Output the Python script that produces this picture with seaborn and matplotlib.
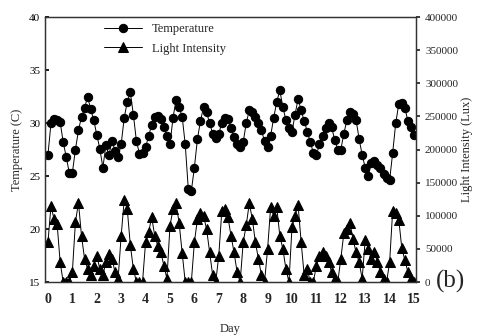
import numpy as np
import pandas as pd
import matplotlib
matplotlib.use("Agg")
import matplotlib.pyplot as plt
import seaborn as sns

# ---- data (3-hour samples) ----
temp_by_day = [
    [27.0, 30.0, 30.4, 30.3, 30.1, 28.2, 26.8, 25.3],   # day 0
    [25.3, 27.5, 29.3, 30.6, 31.4, 32.5, 31.3, 30.3],   # day 1
    [28.9, 27.6, 25.8, 27.9, 27.0, 28.3, 27.4, 26.8],   # day 2
    [28.0, 30.5, 32.0, 32.9, 30.8, 28.3, 27.1, 27.2],   # day 3
    [27.7, 28.8, 29.8, 30.6, 30.7, 30.4, 29.6, 28.8],   # day 4
    [28.0, 30.5, 32.2, 31.5, 30.6, 28.0, 23.8, 23.6],   # day 5
    [25.8, 28.5, 30.2, 31.5, 31.0, 30.0, 29.0, 28.6],   # day 6
    [29.0, 30.0, 30.5, 30.4, 29.5, 28.7, 28.0, 27.7],   # day 7
    [28.2, 30.0, 31.2, 31.0, 30.6, 30.0, 29.3, 28.3],   # day 8
    [27.7, 28.8, 30.5, 32.0, 33.1, 31.5, 30.3, 29.5],   # day 9
    [29.2, 30.8, 32.3, 31.2, 30.2, 29.2, 28.2, 27.2],   # day 10
    [27.0, 28.0, 28.8, 29.5, 30.0, 29.6, 28.4, 27.5],   # day 11
    [27.5, 29.0, 30.3, 31.0, 30.9, 30.3, 28.5, 27.0],   # day 12
    [25.8, 25.0, 26.2, 26.4, 26.0, 25.8, 25.2, 24.8],   # day 13
    [24.6, 27.2, 30.0, 31.8, 31.9, 31.4, 30.2, 29.6],   # day 14
    [28.9],                                             # day 15
]
light_by_day = [
    [60000, 115000, 95000, 88000, 30000, 0, 0, 0],
    [15000, 90000, 120000, 70000, 35000, 20000, 10000, 25000],
    [40000, 20000, 10000, 30000, 42000, 35000, 15000, 5000],
    [70000, 124000, 110000, 56000, 20000, 0, 0, 0],
    [60000, 75000, 98000, 70000, 55000, 45000, 25000, 5000],
    [85000, 110000, 119000, 89000, 44000, 0, 0, 0],
    [60000, 95000, 105000, 100000, 80000, 45000, 10000, 0],
    [40000, 108000, 110000, 98000, 70000, 45000, 15000, 0],
    [60000, 86000, 119000, 95000, 60000, 35000, 10000, 0],
    [50000, 113000, 100000, 113000, 70000, 50000, 20000, 0],
    [83000, 100000, 116000, 60000, 10000, 20000, 0, 0],
    [25000, 40000, 45000, 40000, 30000, 15000, 5000, 0],
    [35000, 74000, 80000, 89000, 65000, 45000, 30000, 5000],
    [64000, 50000, 35000, 45000, 30000, 15000, 5000, 0],
    [30000, 108000, 105000, 94000, 51000, 33000, 15000, 5000],
    [0],
]
day_ticks = list(range(0, 16))
temp_ticks = [15, 20, 25, 30, 35, 40]
light_ticks = [0, 50000, 100000, 150000, 200000, 250000, 300000, 350000, 400000]

temperature = [v for d in temp_by_day for v in d]
light = [v for d in light_by_day for v in d]
days = [i / 8 for i in range(len(temperature))]

df = pd.DataFrame({"Day": days, "Temperature": temperature, "Light": light})

sns.set_theme(style="ticks")
plt.rcParams["font.family"] = ["Liberation Serif", "DejaVu Serif"]

fig = plt.figure(figsize=(4.92, 3.35), dpi=100)
ax = fig.add_axes([0.0915, 0.158, 0.754, 0.791])
ax2 = ax.twinx()

sns.lineplot(data=df, x="Day", y="Temperature", ax=ax, color="black",
             marker="o", markersize=6, linewidth=0.7, markeredgecolor="black",
             label="Temperature", legend=False)
sns.lineplot(data=df, x="Day", y="Light", ax=ax2, color="black",
             marker="^", markersize=7, linewidth=0.7, markeredgecolor="black",
             label="Light Intensity", legend=False)

ax.set_xlim(-0.12, 15.08)
ax.set_ylim(15, 40)
ax2.set_ylim(0, 400000)
ax.set_xticks(day_ticks)
ax.set_yticks(temp_ticks)
ax2.set_yticks(light_ticks)
ax2.set_yticklabels([str(v) for v in light_ticks])

ax.tick_params(axis="x", length=0, labelsize=10, pad=8)
ax.tick_params(axis="y", direction="in", length=3, labelsize=8, colors="black")
ax2.tick_params(axis="y", direction="out", length=3, labelsize=8)
for t in ax.get_xticklabels():
    t.set_fontweight("bold")

ax.set_xlabel("Day", fontsize=9, labelpad=12)
ax.set_ylabel("Temperature (C)", fontsize=9, labelpad=4)
ax2.set_ylabel("Light Intensity (Lux)", fontsize=9, labelpad=2)

for sp in list(ax.spines.values()) + list(ax2.spines.values()):
    sp.set_linewidth(0.9)
    sp.set_color("#333333")

h1, l1 = ax.get_legend_handles_labels()
h2, l2 = ax2.get_legend_handles_labels()
ax.legend(h1 + h2, l1 + l2, loc="upper left", bbox_to_anchor=(0.13, 1.02),
          frameon=False, fontsize=9, handlelength=3, labelspacing=0.6)

fig.text(0.885, 0.16, "(b)", fontsize=18, ha="left", va="center")

fig.savefig("out.png", dpi=100)
